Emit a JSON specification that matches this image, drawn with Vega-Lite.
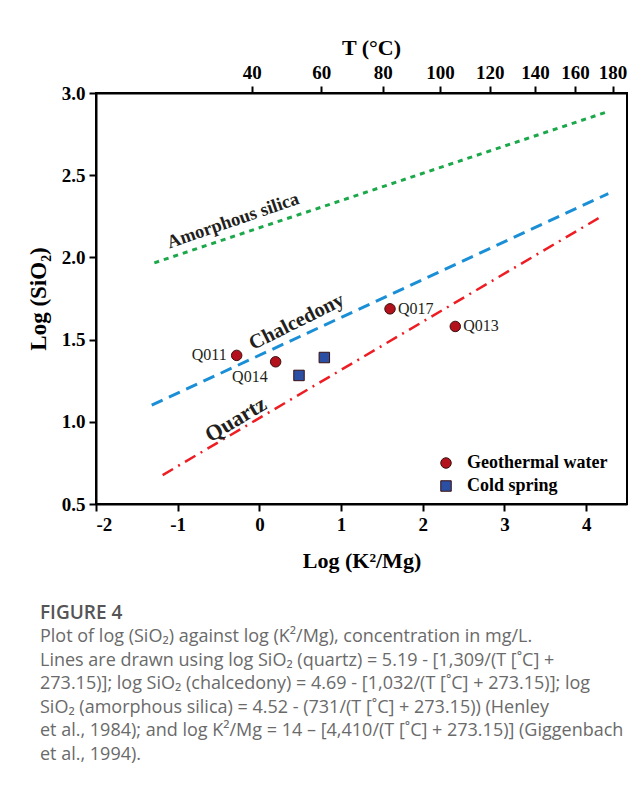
{
  "$schema": "https://vega.github.io/schema/vega-lite/v6.json",
  "width": 531,
  "height": 411,
  "autosize": {"type": "none"},
  "padding": {"left": 96, "top": 93, "right": 15, "bottom": 281},
  "background": "white",
  "title": {
    "text": "FIGURE 4",
    "subtitle": [
      "Plot of log (SiO₂) against log (K²/Mg), concentration in mg/L.",
      "Lines are drawn using log SiO₂ (quartz) = 5.19 - [1,309/(T [˚C] +",
      "273.15)]; log SiO₂ (chalcedony) = 4.69 - [1,032/(T [˚C] + 273.15)]; log",
      "SiO₂ (amorphous silica) = 4.52 - (731/(T [˚C] + 273.15)) (Henley",
      "et al., 1984); and log K²/Mg = 14 – [4,410/(T [˚C] + 273.15)] (Giggenbach",
      "et al., 1994)."
    ],
    "orient": "bottom",
    "anchor": "start",
    "frame": "group",
    "dx": -56,
    "offset": 33,
    "font": "Open Sans",
    "fontSize": 19,
    "fontWeight": 600,
    "color": "#555555",
    "subtitleFont": "Open Sans",
    "subtitleFontSize": 18,
    "subtitleColor": "#6a6a6a",
    "subtitleLineHeight": 23.6,
    "subtitlePadding": 5
  },
  "datasets": {
    "lines": [
      {"series": "Amorphous silica", "x": -1.286, "y": 1.967},
      {"series": "Amorphous silica", "x": 4.23, "y": 2.881},
      {"series": "Chalcedony", "x": -1.318, "y": 1.101},
      {"series": "Chalcedony", "x": 4.271, "y": 2.388},
      {"series": "Quartz", "x": -1.184, "y": 0.676},
      {"series": "Quartz", "x": 4.19, "y": 2.25}
    ],
    "lineLabels": [
      {"name": "Amorphous silica", "x": -0.323, "y": 2.226},
      {"name": "Chalcedony", "x": 0.456, "y": 1.608},
      {"name": "Quartz", "x": -0.29, "y": 1.015}
    ],
    "samples": [
      {"sample": "Q011", "type": "Geothermal water", "x": -0.278, "y": 1.404},
      {"sample": "Q014", "type": "Geothermal water", "x": 0.199, "y": 1.365},
      {"sample": "Q017", "type": "Geothermal water", "x": 1.599, "y": 1.687},
      {"sample": "Q013", "type": "Geothermal water", "x": 2.398, "y": 1.58},
      {"sample": "", "type": "Cold spring", "x": 0.485, "y": 1.282},
      {"sample": "", "type": "Cold spring", "x": 0.795, "y": 1.391}
    ]
  },
  "encoding": {
    "x": {
      "field": "x",
      "type": "quantitative",
      "scale": {"domain": [-2, 4.5], "nice": false, "zero": false},
      "axis": null
    },
    "y": {
      "field": "y",
      "type": "quantitative",
      "scale": {"domain": [0.5, 3], "nice": false, "zero": false},
      "axis": {
        "title": "Log (SiO₂)",
        "values": [0.5, 1, 1.5, 2, 2.5, 3],
        "format": ".1f",
        "titlePadding": 11,
        "titleFontSize": 23
      }
    }
  },
  "layer": [
    {
      "data": {"name": "lines"},
      "transform": [{"filter": "datum.series === 'Amorphous silica'"}],
      "mark": {"type": "line", "color": "#1ba84a", "strokeWidth": 3, "strokeDash": [5, 5]},
      "encoding": {
        "x": {
          "field": "x",
          "type": "quantitative",
          "scale": {"domain": [-2, 4.5], "nice": false, "zero": false},
          "axis": {
            "title": "Log (K²/Mg)",
            "values": [-2, -1, 0, 1, 2, 3, 4],
            "labelExpr": "'' + datum.value",
            "titlePadding": 16,
            "titleFontSize": 22
          }
        }
      }
    },
    {
      "data": {"name": "lines"},
      "transform": [{"filter": "datum.series === 'Chalcedony'"}],
      "mark": {"type": "line", "color": "#1b8fd6", "strokeWidth": 3, "strokeDash": [12, 7]}
    },
    {
      "data": {"name": "lines"},
      "transform": [{"filter": "datum.series === 'Quartz'"}],
      "mark": {"type": "line", "color": "#ee1d23", "strokeWidth": 2.5, "strokeDash": [12, 6, 2, 6]}
    },
    {
      "data": {"name": "lineLabels"},
      "transform": [{"filter": "datum.name === 'Amorphous silica'"}],
      "mark": {"type": "text", "font": "Liberation Serif", "fontWeight": "bold", "fontSize": 18.5, "angle": -19, "color": "#231f20"},
      "encoding": {"text": {"field": "name"}}
    },
    {
      "data": {"name": "lineLabels"},
      "transform": [{"filter": "datum.name === 'Chalcedony'"}],
      "mark": {"type": "text", "font": "Liberation Serif", "fontWeight": "bold", "fontSize": 20.5, "angle": -26.5, "color": "#231f20"},
      "encoding": {"text": {"field": "name"}}
    },
    {
      "data": {"name": "lineLabels"},
      "transform": [{"filter": "datum.name === 'Quartz'"}],
      "mark": {"type": "text", "font": "Liberation Serif", "fontWeight": "bold", "fontSize": 22, "angle": -31, "color": "#231f20"},
      "encoding": {"text": {"field": "name"}}
    },
    {
      "data": {"name": "samples"},
      "mark": {"type": "point", "filled": true, "size": 110, "stroke": "#3a1010", "strokeWidth": 1, "opacity": 1},
      "encoding": {
        "x": {
          "field": "x",
          "type": "quantitative",
          "scale": {"domain": [-2, 4.5], "nice": false, "zero": false},
          "axis": {
            "orient": "top",
            "title": "T (°C)",
            "values": [-0.094, 0.758, 1.509, 2.211, 2.819, 3.373, 3.863, 4.324],
            "labelExpr": "round((4410 / (14 - datum.value) - 273.15) / 20) * 20",
            "titleX": 275,
            "titlePadding": 4,
            "titleFontSize": 22
          }
        },
        "color": {
          "field": "type",
          "type": "nominal",
          "scale": {"domain": ["Geothermal water", "Cold spring"], "range": ["#b3121c", "#2b4fa3"]},
          "legend": {
            "title": null,
            "orient": "none",
            "legendX": 341,
            "legendY": 361,
            "labelFont": "Liberation Serif",
            "labelFontWeight": "bold",
            "labelFontSize": 18,
            "labelColor": "black",
            "labelOffset": 12,
            "rowPadding": 5,
            "symbolSize": 110,
            "symbolStrokeColor": "#3a1010",
            "symbolStrokeWidth": 1,
            "padding": 0
          }
        },
        "shape": {
          "field": "type",
          "type": "nominal",
          "scale": {"domain": ["Geothermal water", "Cold spring"], "range": ["circle", "square"]},
          "legend": null
        }
      }
    },
    {
      "data": {"name": "samples"},
      "transform": [{"filter": "datum.sample === 'Q011'"}],
      "mark": {"type": "text", "font": "Liberation Serif", "fontSize": 16, "align": "right", "dx": -10, "color": "#231f20"},
      "encoding": {"text": {"field": "sample"}}
    },
    {
      "data": {"name": "samples"},
      "transform": [{"filter": "datum.sample === 'Q014'"}],
      "mark": {"type": "text", "font": "Liberation Serif", "fontSize": 16, "align": "right", "dx": -8, "dy": 15, "color": "#231f20"},
      "encoding": {"text": {"field": "sample"}}
    },
    {
      "data": {"name": "samples"},
      "transform": [{"filter": "datum.sample === 'Q017' || datum.sample === 'Q013'"}],
      "mark": {"type": "text", "font": "Liberation Serif", "fontSize": 16, "align": "left", "dx": 8, "color": "#231f20"},
      "encoding": {"text": {"field": "sample"}}
    }
  ],
  "resolve": {"axis": {"x": "independent"}},
  "config": {
    "view": {"stroke": "black", "strokeWidth": 2},
    "axis": {
      "domainColor": "black",
      "domainWidth": 2,
      "tickColor": "black",
      "tickWidth": 2,
      "tickSize": 7,
      "grid": false,
      "labelFont": "Liberation Serif",
      "labelFontWeight": "bold",
      "labelFontSize": 19,
      "labelColor": "black",
      "labelPadding": 4,
      "titleFont": "Liberation Serif",
      "titleFontWeight": "bold",
      "titleFontSize": 20,
      "titleColor": "black"
    }
  }
}
